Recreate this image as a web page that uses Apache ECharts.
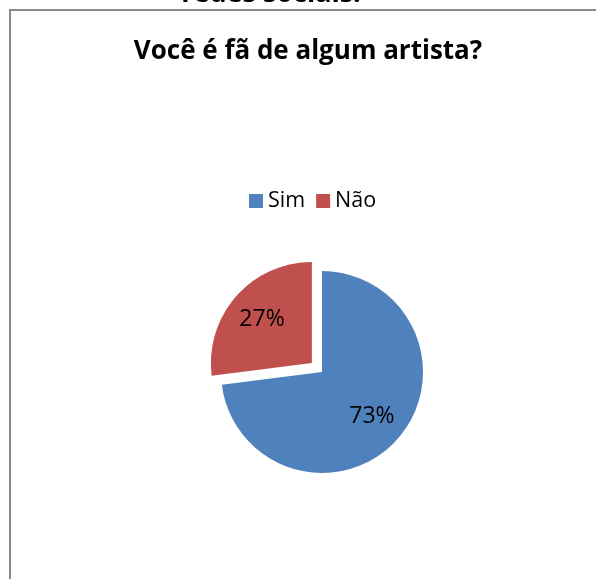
<!DOCTYPE html>
<html>
<head>
<meta charset="utf-8">
<script src="https://cdn.jsdelivr.net/npm/echarts@6/dist/echarts.min.js"></script>
<style>
  html, body { margin: 0; padding: 0; background: #fff; }
  #chart { width: 596px; height: 579px; }
</style>
</head>
<body>
<div id="chart"></div>
<script>
// Survey answers: share of respondents (%)
const categories = ['Sim', 'Não'];
const values = [73, 27];
const colors = ['#4F81BD', '#C0504D'];
const titleText = 'Você é fã de algum artista?';
const previousTitle = 'redes sociais.';

const FONT = '"Open Sans", Lato, sans-serif';
const CENTER = [322, 372];
const R = 101;

const pieData = categories.map((name, i) => ({
  name: name,
  value: values[i],
  selected: name === 'Não',
  itemStyle: { color: colors[i] }
}));

const chart = echarts.init(document.getElementById('chart'), null, { renderer: 'canvas' });

chart.setOption({
  animation: false,
  backgroundColor: '#ffffff',
  legend: {
    left: 249,
    top: 190,
    padding: 0,
    itemWidth: 14,
    itemHeight: 14,
    itemGap: 11,
    icon: 'rect',
    selectedMode: false,
    data: categories,
    textStyle: { fontFamily: FONT, fontSize: 21.5, color: '#000' }
  },
  graphic: [
    {
      type: 'rect',
      silent: true,
      shape: { x: 10, y: 10, width: 1000, height: 1000 },
      style: { fill: 'none', stroke: '#8a8a8a', lineWidth: 2 }
    },
    {
      // tail of the heading above, cut by the top edge
      type: 'text',
      x: 271,
      y: -6,
      style: {
        text: previousTitle,
        align: 'center',
        verticalAlign: 'middle',
        font: 'bold 27px ' + FONT,
        fill: '#000'
      }
    },
    {
      type: 'text',
      x: 308,
      y: 52,
      style: {
        text: titleText,
        align: 'center',
        verticalAlign: 'middle',
        font: 'bold 26px ' + FONT,
        fill: '#000'
      }
    }
  ],
  series: [
    {
      type: 'pie',
      center: CENTER,
      radius: R,
      startAngle: 90,
      clockwise: true,
      selectedMode: 'multiple',
      selectedOffset: 13.5,
      silent: true,
      emphasis: { disabled: true, scale: false },
      itemStyle: { borderWidth: 0 },
      label: { show: false },
      labelLine: { show: false },
      data: pieData
    },
    {
      // transparent ring that only carries the percentage labels
      type: 'pie',
      center: CENTER,
      radius: [Math.round(R * 0.26), R],
      startAngle: 90,
      clockwise: true,
      selectedMode: 'multiple',
      selectedOffset: 13.5,
      silent: true,
      emphasis: { disabled: true, scale: false },
      itemStyle: { color: 'rgba(0,0,0,0)', borderWidth: 0 },
      label: {
        show: true,
        position: 'inside',
        formatter: '{d}%',
        fontFamily: FONT,
        fontSize: 23,
        color: '#000'
      },
      labelLine: { show: false },
      data: pieData.map(d => ({ name: d.name, value: d.value, selected: d.selected }))
    }
  ]
});
</script>
</body>
</html>
